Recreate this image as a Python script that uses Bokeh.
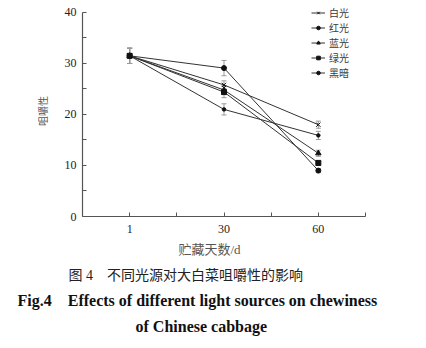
from bokeh.plotting import figure
from bokeh.models import (ColumnDataSource, FixedTicker, Whisker, TeeHead, Legend,
                          LegendItem, Title, Range1d)
from bokeh.embed import file_html
from bokeh.resources import INLINE

# ---- data ----
days = ["1", "30", "60"]
series_names = ["白光", "红光", "蓝光", "绿光", "黑暗"]
white = [31.5, 25.8, 18.0]
red = [31.5, 21.0, 15.9]
blue = [31.5, 24.8, 12.4]
green = [31.5, 24.4, 10.5]
dark = [31.5, 29.1, 9.0]
white_err = [1.5, 0.8, 0.7]
red_err = [1.5, 1.1, 0.8]
blue_err = [1.5, 0.9, 0.6]
green_err = [1.5, 1.1, 0.5]
dark_err = [1.5, 1.5, 0.4]
y_ticks = [0, 10, 20, 30, 40]
y_minor = [5, 15, 25, 35]

x_idx = [i + 1 for i in range(len(days))]

# frame extends a little above 40 so the legend can sit there; axis line is bounded to 0..40
p = figure(width=426, height=348, x_range=Range1d(0.5, 3.5), y_range=Range1d(0, 41.37),
           output_backend="svg", toolbar_location=None,
           min_border_left=82, min_border_right=61, min_border_top=5, min_border_bottom=132)
p.grid.visible = False
p.outline_line_color = None
p.background_fill_color = "white"
p.border_fill_color = "white"

styles = [
    ("x", 6, 1.0),
    ("circle", 3.5, 1.0),
    ("triangle", 5.5, 1.0),
    ("square", 5, 1.0),
    ("circle", 5, 1.0),
]
all_vals = [white, red, blue, green, dark]
all_errs = [white_err, red_err, blue_err, green_err, dark_err]

items = []
for name, vals, errs, (mk, sz, lw) in zip(series_names, all_vals, all_errs, styles):
    src = ColumnDataSource(dict(x=x_idx, y=vals,
                                upper=[v + e for v, e in zip(vals, errs)],
                                lower=[v - e for v, e in zip(vals, errs)]))
    w = Whisker(base="x", upper="upper", lower="lower", source=src,
                line_color="#9a9a9a", line_width=1, level="underlay",
                upper_head=TeeHead(size=5, line_color="#9a9a9a", line_width=1),
                lower_head=TeeHead(size=5, line_color="#9a9a9a", line_width=1))
    p.add_layout(w)
    lr = p.line("x", "y", source=src, line_color="#333333", line_width=1)
    sr = p.scatter("x", "y", source=src, marker=mk, size=sz, line_width=lw,
                   line_color="#111111", fill_color="#111111")
    items.append(LegendItem(label=name, renderers=[lr, sr]))

legend = Legend(items=items, location=(229, 136), padding=0, margin=0, spacing=-1,
                label_text_font="Noto Sans CJK SC", label_text_font_size="10px",
                label_text_color="#3a3a3a", label_height=14, glyph_height=9,
                glyph_width=14, label_standoff=4, border_line_color=None,
                background_fill_alpha=0)
p.add_layout(legend, "center")

# axes
for ax in (p.xaxis[0], p.yaxis[0]):
    ax.axis_line_color = "#555555"
    ax.axis_line_width = 1.2
    ax.major_tick_line_color = "#555555"
    ax.minor_tick_line_color = "#555555"
    ax.major_tick_in = 4
    ax.major_tick_out = 0
    ax.minor_tick_in = 4
    ax.minor_tick_out = 0
    ax.major_label_text_font = "Liberation Serif"
    ax.major_label_text_font_size = "12px"
    ax.major_label_text_color = "#222222"
    ax.axis_label_text_font_style = "normal"

p.xaxis.ticker = FixedTicker(ticks=x_idx, minor_ticks=[1.5, 2.5, 3.5])
p.xaxis.major_label_overrides = {i: d for i, d in zip(x_idx, days)}
p.xaxis.major_label_standoff = 8

p.yaxis.ticker = FixedTicker(ticks=y_ticks, minor_ticks=y_minor)
p.yaxis.bounds = (0, 40)
p.yaxis.major_label_standoff = 6
p.yaxis.axis_label = "咀嚼性"
p.yaxis.axis_label_text_font = "Noto Sans CJK SC"
p.yaxis.axis_label_text_font_size = "10px"
p.yaxis.axis_label_text_color = "#555555"
p.yaxis.axis_label_standoff = 12

NB = "\u00a0"
# x axis title (placed as a title so it can sit slightly left of centre, as in the original)
xlab = Title(text="贮藏天数/d", align="left", offset=96,
             text_font="Liberation Serif, Noto Sans CJK SC", text_font_size="13px",
             text_font_style="normal", text_color="#555555", standoff=9)
# captions
cap1 = Title(text="图" + NB + "4" + NB * 4 + "不同光源对大白菜咀嚼性的影响", align="left", offset=-14,
             text_font="Liberation Serif, Noto Sans CJK SC", text_font_size="14px",
             text_font_style="normal", text_color="#222222", standoff=9)
cap2 = Title(text="Fig.4" + NB * 4 + "Effects of different light sources on chewiness",
             align="left", offset=-65, text_font="Liberation Serif", text_font_size="16px",
             text_font_style="bold", text_color="#111111", standoff=5)
cap3 = Title(text="of Chinese cabbage", align="left", offset=53,
             text_font="Liberation Serif", text_font_size="16px",
             text_font_style="bold", text_color="#111111", standoff=8)
p.add_layout(xlab, "below")
p.add_layout(cap1, "below")
p.add_layout(cap2, "below")
p.add_layout(cap3, "below")

open("out.html", "w").write(file_html(p, INLINE))
